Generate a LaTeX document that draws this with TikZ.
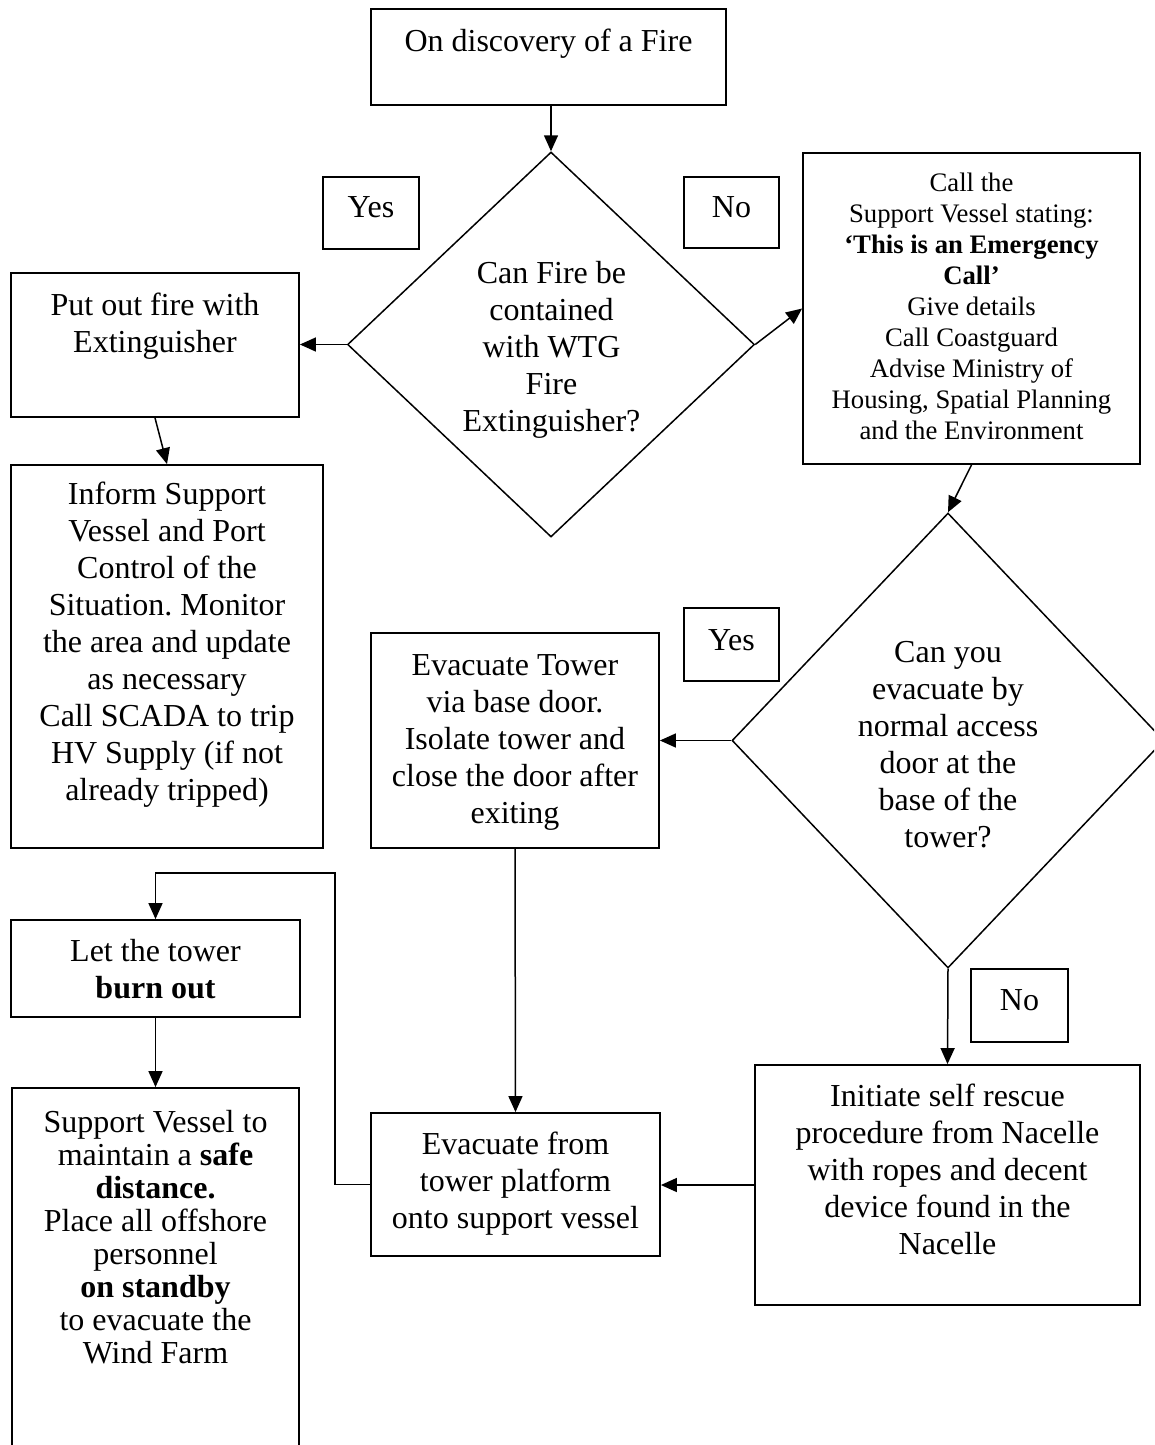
\documentclass[tikz,border=0pt]{standalone}
\usepackage{fontspec}
\setmainfont{Liberation Serif}
\usetikzlibrary{shapes.geometric,arrows.meta}
\newcommand\bodysize{\fontsize{32}{37}\selectfont}
\newcommand\callsize{\fontsize{26.7}{31}\selectfont}
\newcommand\tightsize{\fontsize{32}{33}\selectfont}
\frenchspacing

\begin{document}
\begin{tikzpicture}[x=1pt,y=-1pt,
  frame/.style={draw, line width=1.8pt, inner sep=0pt},
  decision/.style={draw, diamond, line width=1.5pt, inner sep=0pt},
  txt/.style={align=center, inner sep=0pt, font=\bodysize},
  flow/.style={line width=1.5pt, -{Triangle[length=16pt,width=14pt]}}]

\useasboundingbox (0,0) rectangle (1154,1445);
\clip (0,0) rectangle (1154,1445);

% ---- start ----
\node[frame, minimum width=355pt, minimum height=96pt] (start) at (548.5,57) {};
\node[txt] (startT) at (548.5,43.5) {On discovery of a Fire};

% ---- first decision ----
\node[decision, minimum width=407pt, minimum height=385pt] (q1) at (551,344.5) {};
\node[txt] (q1T) at (551.5,350) {Can Fire be\\contained\\with WTG\\Fire\\Extinguisher?};

\node[frame, minimum width=96pt, minimum height=72pt] (yes1) at (371,213) {};
\node[txt] (yes1T) at (371,207) {Yes};
\node[frame, minimum width=95pt, minimum height=71pt] (no1) at (731.5,212.5) {};
\node[txt] (no1T) at (731.5,207) {No};

% ---- extinguish branch ----
\node[frame, minimum width=288pt, minimum height=144pt] (put) at (155,345) {};
\node[txt] (putT) at (155,326) {Put out fire with\\Extinguisher};

\node[frame, minimum width=312pt, minimum height=383pt] (inform) at (167,656.5) {};
\node[txt] (informT) at (167,645) {Inform Support\\Vessel and Port\\Control of the\\Situation. Monitor\\the area and update\\as necessary\\Call SCADA to trip\\HV Supply (if not\\already tripped)};

% ---- emergency call ----
\node[frame, minimum width=337pt, minimum height=311pt] (call) at (971.5,308.5) {};
\node[txt, font=\callsize] (callT) at (971.5,306.5) {Call the\\Support Vessel stating:\\\textbf{‘This is an Emergency}\\\textbf{Call’}\\Give details\\Call Coastguard\\Advise Ministry of\\Housing, Spatial Planning\\and the Environment};

% ---- second decision ----
\node[decision, minimum width=432pt, minimum height=455pt] (q2) at (948,740.5) {};
\node[txt] (q2T) at (948,745) {Can you\\evacuate by\\normal access\\door at the\\base of the\\tower?};

\node[frame, minimum width=95pt, minimum height=73pt] (yes2) at (731.5,644.5) {};
\node[txt] (yes2T) at (731.5,640) {Yes};
\node[frame, minimum width=97pt, minimum height=73pt] (no2) at (1019.5,1005.5) {};
\node[txt] (no2T) at (1019.5,1000) {No};

% ---- evacuation ----
\node[frame, minimum width=288pt, minimum height=215pt] (tower) at (515,740.5) {};
\node[txt] (towerT) at (515,742) {Evacuate Tower\\via base door.\\Isolate tower and\\close the door after\\exiting};

\node[frame, minimum width=289pt, minimum height=143pt] (leave) at (515.5,1184.5) {};
\node[txt] (leaveT) at (515.5,1184) {Evacuate from\\tower platform\\onto support vessel};

\node[frame, minimum width=385pt, minimum height=240pt] (rescue) at (947.5,1185) {};
\node[txt] (rescueT) at (947.5,1169) {Initiate self rescue\\procedure from Nacelle\\with ropes and decent\\device found in the\\Nacelle};

% ---- burn out ----
\node[frame, minimum width=289pt, minimum height=97pt] (burn) at (155.5,968.5) {};
\node[txt] (burnT) at (155.5,969.5) {Let the tower\\\textbf{burn out}};

\node[frame, minimum width=287pt, minimum height=382pt] (standby) at (155.5,1279) {};
\node[txt, font=\tightsize] (standbyT) at (155.5,1237) {Support Vessel to\\maintain a \textbf{safe}\\\textbf{distance.}\\Place all offshore\\personnel\\\textbf{on standby}\\to evacuate the\\Wind Farm};

% ---- connectors ----
\draw[flow] (start.south -| q1.north) -- (q1.north);
\draw[flow] (q1.west) -- (q1.west -| put.east);
\draw[flow] (q1.east) -- (call.west);
\draw[flow] (put.south) -- (inform.north);
\draw[flow] (call.south) -- (q2.north);
\draw[flow] (q2.west) -- (q2.west -| tower.east);
\draw[flow] (q2.south) -- (rescue.north);
\draw[flow] (tower.south) -- (leave.north);
\draw[flow] (rescue.west) -- (rescue.west -| leave.east);
\coordinate (bend) at (335,873);
\draw[flow] (leave.west) -| (bend) -| (burn.north);
\draw[flow] (burn.south) -- (standby.north);
\end{tikzpicture}
\end{document}
